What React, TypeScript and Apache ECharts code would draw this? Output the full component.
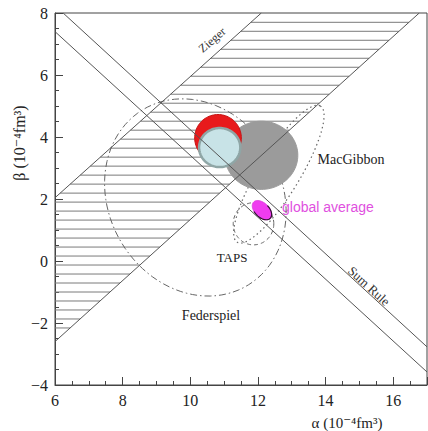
import React, { useEffect, useRef } from "react";
import * as echarts from "echarts";

// axis ranges / ticks
const xRange = [6, 17];
const yRange = [-4, 8];
const tickStep = 2;

// band boundary lines: [alpha, beta] end points
const sumRuleUpper = [[6.24, 8], [17, -2.77]];
const sumRuleLower = [[6, 7.4], [17, -3.58]];
const ziegerUpper = [[6, 2.04], [12.1, 8]];
const ziegerLower = [[6, -2.6], [16.77, 8]];

// beta positions of the hatch lines inside the Zieger band
const hatchBetas = [
  7.7, 7.41, 7.12, 6.83, 6.54, 6.25, 5.96, 5.67, 5.38, 5.09, 4.8, 4.51, 4.22,
  3.93, 3.64, 3.35, 3.06, 2.77, 2.48, 2.19, 1.9, 1.61, 1.32, 1.03, 0.74, 0.45,
  0.16, -0.13, -0.42, -0.71, -1.0, -1.29, -1.58, -1.87, -2.16,
];

// ellipses: [center alpha, center beta, semi-axis a, semi-axis b, angle of a (deg)]
const federspiel = [10.15, 2.05, 3.25, 2.6, -70];
const macGibbon = [12.62, 2.8, 2.52, 0.62, 61];
const taps = [11.87, 1.2, 0.6, 0.68, 0];
const grayBlob = [12.1, 3.41, 1.08, 1.1, 0];
const redDisk = [10.82, 3.97, 0.69, 0.755, 0];
const blueDisk = [10.87, 3.66, 0.61, 0.63, 0];
const globalAverage = [12.12, 1.64, 0.36, 0.22, -50];

const SERIF = "'Liberation Serif', 'DejaVu Serif', serif";
const SANS = "'Liberation Sans', Arial, sans-serif";

function alphaAt(line: number[][], beta: number) {
  const [[x1, y1], [x2, y2]] = line;
  return x1 + ((beta - y1) * (x2 - x1)) / (y2 - y1);
}

function ellipsePts(api: any, v: number[], t0 = 0, t1 = Math.PI * 2, n = 96) {
  const [cx, cy, a, b, deg] = v;
  const th = (deg * Math.PI) / 180;
  const pts: number[][] = [];
  for (let i = 0; i <= n; i++) {
    const t = t0 + ((t1 - t0) * i) / n;
    const dx = a * Math.cos(t) * Math.cos(th) - b * Math.sin(t) * Math.sin(th);
    const dy = a * Math.cos(t) * Math.sin(th) + b * Math.sin(t) * Math.cos(th);
    pts.push(api.coord([cx + dx, cy + dy]));
  }
  return pts;
}

function ellipseSeries(v: number[], style: any, filled: boolean, extra?: any) {
  return {
    type: "custom",
    silent: true,
    clip: true,
    data: [v],
    renderItem: (_p: any, api: any) => {
      const vals = [0, 1, 2, 3, 4].map((i) => api.value(i));
      const children: any[] = [
        filled
          ? { type: "polygon", shape: { points: ellipsePts(api, vals) }, style }
          : { type: "polyline", shape: { points: ellipsePts(api, vals) }, style },
      ];
      if (extra) {
        children.push({
          type: "polyline",
          shape: { points: ellipsePts(api, vals, extra.t0, extra.t1, 40) },
          style: extra.style,
        });
      }
      return { type: "group", children };
    },
  };
}

function lineSeries(pts: number[][]) {
  return {
    type: "line",
    data: pts,
    symbol: "none",
    silent: true,
    lineStyle: { color: "#555", width: 1 },
    z: 3,
  };
}

export default function App() {
  const ref = useRef<HTMLDivElement>(null);
  useEffect(() => {
    if (!ref.current) return;
    const chart = echarts.init(ref.current, undefined, { renderer: "svg" });
    const axisCommon = {
      type: "value",
      interval: tickStep,
      axisLine: { show: true, onZero: false, lineStyle: { color: "#444", width: 1 } },
      axisTick: { show: true, inside: true, length: 8, lineStyle: { color: "#444" } },
      minorTick: { show: true, splitNumber: 4, length: 4, lineStyle: { color: "#444" } },
      splitLine: { show: false },
      minorSplitLine: { show: false },
    };
    const labelCommon = {
      color: "#222",
      fontFamily: SERIF,
      fontSize: 16,
      margin: 7,
      formatter: (v: number) => String(v).replace("-", "\u2212"),
    };
    chart.setOption({
      animation: false,
      backgroundColor: "#fff",
      grid: {
        left: 55,
        top: 13,
        width: 372,
        height: 372,
        show: true,
        borderColor: "#444",
        borderWidth: 1,
      },
      xAxis: {
        ...axisCommon,
        min: xRange[0],
        max: xRange[1],
        axisLabel: { ...labelCommon, showMaxLabel: false },
      },
      yAxis: {
        ...axisCommon,
        min: yRange[0],
        max: yRange[1],
        axisLabel: { ...labelCommon },
      },
      series: [
        {
          type: "custom",
          silent: true,
          clip: true,
          data: hatchBetas.map((b) => [b]),
          z: 2,
          renderItem: (_p: any, api: any) => {
            const b = api.value(0);
            const l = Math.max(xRange[0], alphaAt(ziegerUpper, b));
            const r = Math.min(xRange[1], alphaAt(ziegerLower, b));
            if (r <= l) return null;
            const p1 = api.coord([l, b]);
            const p2 = api.coord([r, b]);
            return {
              type: "line",
              shape: { x1: p1[0], y1: p1[1], x2: p2[0], y2: p2[1] },
              style: { stroke: "#7a7a7a", lineWidth: 1 },
            };
          },
        },
        lineSeries(sumRuleUpper),
        lineSeries(sumRuleLower),
        lineSeries(ziegerUpper),
        lineSeries(ziegerLower),
        ellipseSeries(federspiel, { fill: "none", stroke: "#666", lineWidth: 1, lineDash: [7, 3, 1.5, 3] }, false),
        ellipseSeries(macGibbon, { fill: "none", stroke: "#666", lineWidth: 1.2, lineDash: [1.5, 3] }, false),
        ellipseSeries(taps, { fill: "none", stroke: "#666", lineWidth: 1, lineDash: [4, 3] }, false),
        ellipseSeries(grayBlob, { fill: "#9b9b9b", stroke: "#9b9b9b", lineWidth: 1 }, true),
        ellipseSeries(redDisk, { fill: "#e81a1c", stroke: "#c41414", lineWidth: 1 }, true),
        ellipseSeries(blueDisk, { fill: "#c8e3e7", stroke: "#8fa6a6", lineWidth: 2.5 }, true),
        ellipseSeries(globalAverage, { fill: "#f03cf0", stroke: "#e040e0", lineWidth: 1 }, true, {
          t0: -1.9,
          t1: 1.6,
          style: { fill: "none", stroke: "#331133", lineWidth: 1.2 },
        }),
      ],
      graphic: [
        { type: "text", x: 212, y: 40, rotation: 0.72, style: { text: "Zieger", font: `12px ${SERIF}`, fill: "#333", align: "center", verticalAlign: "middle" } },
        { type: "text", x: 369, y: 286, rotation: -0.74, style: { text: "Sum Rule", font: `13px ${SERIF}`, fill: "#333", align: "center", verticalAlign: "middle" } },
        { type: "text", x: 351, y: 159, style: { text: "MacGibbon", font: `14px ${SERIF}`, fill: "#222", align: "center", verticalAlign: "middle" } },
        { type: "text", x: 232, y: 257, style: { text: "TAPS", font: `13px ${SERIF}`, fill: "#222", align: "center", verticalAlign: "middle" } },
        { type: "text", x: 211, y: 315, style: { text: "Federspiel", font: `14px ${SERIF}`, fill: "#222", align: "center", verticalAlign: "middle" } },
        { type: "text", x: 282, y: 207, style: { text: "global average", font: `14px ${SANS}`, fill: "#e050e0", align: "left", verticalAlign: "middle" } },
        { type: "text", x: 347, y: 423, style: { text: "\u03b1 (10\u207b\u2074fm\u00b3)", font: `15px ${SERIF}`, fill: "#222", align: "center", verticalAlign: "middle" } },
        { type: "text", x: 19, y: 143, rotation: Math.PI / 2, style: { text: "\u03b2 (10\u207b\u2074fm\u00b3)", font: `16px ${SERIF}`, fill: "#222", align: "center", verticalAlign: "middle" } },
      ],
    });
    return () => chart.dispose();
  }, []);
  return (
    <div
      ref={ref}
      style={{ position: "fixed", left: 0, top: 0, width: 428, height: 431, background: "#fff" }}
    />
  );
}
